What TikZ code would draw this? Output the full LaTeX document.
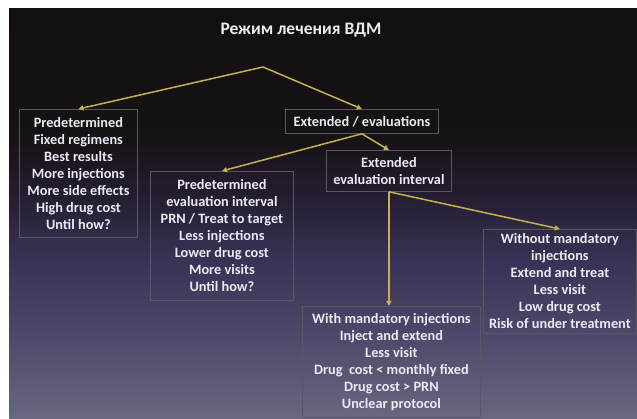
\documentclass[tikz,border=0pt]{standalone}
\usepackage{fontspec}
\setmainfont{Carlito}
\usetikzlibrary{arrows.meta}
\definecolor{arr}{RGB}{196,178,80}
\definecolor{txt}{RGB}{238,234,244}
\definecolor{brd}{RGB}{92,86,100}
\definecolor{c0}{RGB}{104,104,130}
\definecolor{c1}{RGB}{76,70,104}
\definecolor{c2}{RGB}{58,50,86}
\definecolor{c3}{RGB}{38,30,50}
\definecolor{c4}{RGB}{23,18,21}
\definecolor{c5}{RGB}{19,15,14}
\pgfdeclareverticalshading{bgshade}{100bp}{color(0bp)=(c0); color(25bp)=(c0); color(35.98bp)=(c1); color(44.5bp)=(c2); color(51.8bp)=(c3); color(59.1bp)=(c4); color(75bp)=(c5); color(100bp)=(c5)}
\begin{document}
\begin{tikzpicture}[x=1pt,y=-1pt,
  box/.style={draw=brd, line width=0.8pt, text=txt, font=\bfseries\fontsize{14.3}{17}\selectfont, align=center, inner sep=0pt, anchor=north west},
  con/.style={draw=arr, line width=1.5pt, -{Triangle[width=5pt,length=5pt]}}]
\useasboundingbox (0,0) rectangle (637,419);
\fill[white] (0,0) rectangle (637,419);
\shade[shading=bgshade] (9,9) rectangle (637,419);
\node[text=txt, font=\bfseries\fontsize{17.5}{20}\selectfont] (title) at (301,30) {Режим лечения ВДМ};
\coordinate (apex) at (263,67);
\node[box, minimum width=118pt, minimum height=128pt] (b1) at (19,109) {Predetermined\\Fixed regimens\\Best results\\More injections\\More side effects\\High drug cost\\Until how?};
\node[box, minimum width=153pt, minimum height=24pt] (ext) at (285,109) {Extended / evaluations};
\node[box, minimum width=143pt, minimum height=129pt] (b2) at (150,171) {Predetermined\\evaluation interval\\PRN / Treat to target\\Less injections\\Lower drug cost\\More visits\\Until how?};
\node[box, minimum width=125pt, minimum height=41pt] (b3) at (326,150) {Extended\\evaluation interval};
\node[box, minimum width=178pt, minimum height=111pt] (w) at (302,306) {With mandatory injections\\Inject and extend\\Less visit\\Drug\ \ cost < monthly fixed\\Drug cost > PRN\\Unclear protocol};
\node[box, minimum width=153pt, minimum height=104pt] (wo) at (483,229) {Without mandatory\\injections\\Extend and treat\\Less visit\\Low drug cost\\Risk of under treatment};
\draw[con] (apex) -- (b1.north);
\draw[con] (apex) -- (ext.north);
\draw[con] (ext.south) -- (b2.north);
\draw[con] (ext.south) -- (b3.north);
\draw[con] (b3.south) -- (b3.south |- w.north);
\draw[con] (b3.south) -- (wo.north);
\end{tikzpicture}
\end{document}
